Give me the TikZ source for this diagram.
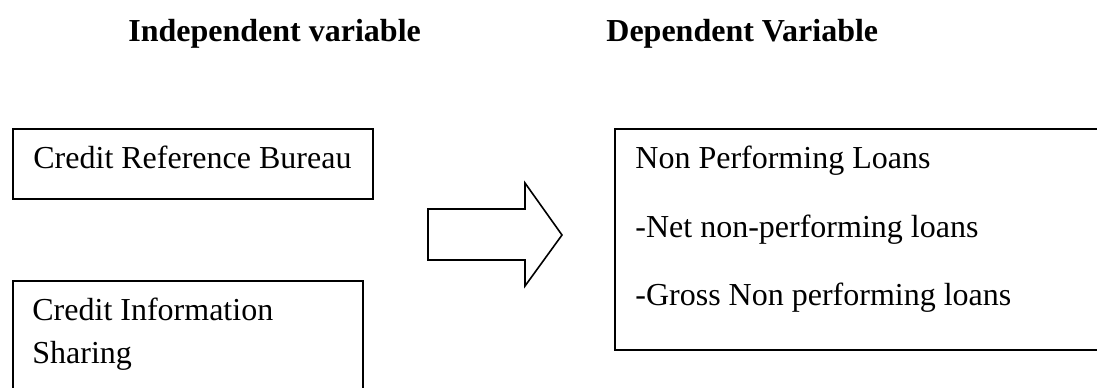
\documentclass[tikz,border=0pt]{standalone}
\usepackage{fontspec}
\setmainfont{Liberation Serif}
\usepackage{tikz}

\begin{document}
\begin{tikzpicture}[x=0.5pt, y=-0.5pt,
    every node/.style={inner sep=0pt, font=\fontsize{16}{19}\selectfont},
    varbox/.style={draw, line width=1pt, anchor=north west},
    boxtext/.style={anchor=base west},
    heading/.style={anchor=base west, font=\fontsize{16}{19}\selectfont\bfseries}]
    \useasboundingbox (0,0) rectangle (1097,387);
    \clip (0,0) rectangle (1097,387);

    % Headings
    \node[heading] (indep) at (128,41) {Independent variable};
    \node[heading] (dep) at (606,41) {Dependent Variable};

    % Independent variable boxes
    \node[varbox, minimum width=180pt, minimum height=35pt] (bureau) at (12,128) {};
    \node[boxtext] (bureautxt) at (33,168) {Credit Reference Bureau};
    \node[varbox, minimum width=175pt, minimum height=70pt] (sharing) at (12,280) {};
    \node[boxtext] (sharingtxt) at (32,320) {Credit Information};
    \node[boxtext] (sharingtxt2) at (32,363) {Sharing};

    % Block arrow
    \draw[line width=0.8pt, line join=miter]
        (428,209) -- (525,209) -- (525,183) -- (562,235)
        -- (525,286) -- (525,260) -- (428,260) -- cycle;

    % Dependent variable box
    \node[varbox, minimum width=260pt, minimum height=110.5pt] (loans) at (614,128) {};
    \node[boxtext] (loanstxt) at (635,168) {Non Performing Loans};
    \node[boxtext] (nettxt) at (635,237) {-Net non-performing loans};
    \node[boxtext] (grosstxt) at (635,305) {-Gross Non performing loans};
\end{tikzpicture}
\end{document}
